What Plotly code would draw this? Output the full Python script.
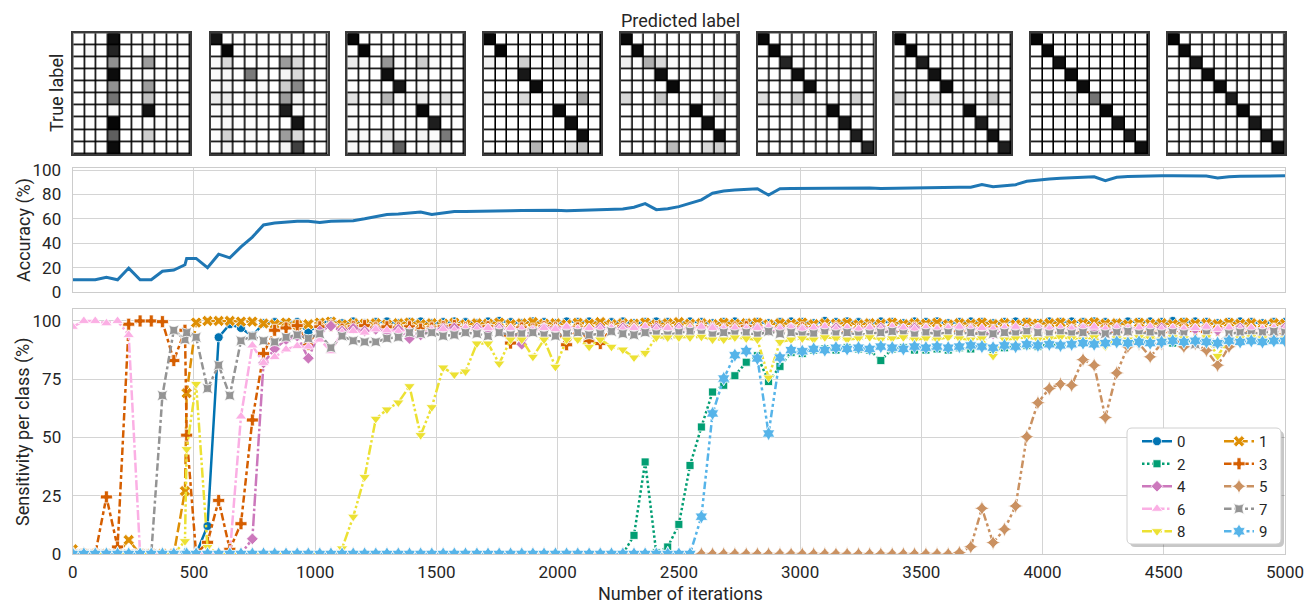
import plotly.graph_objects as go

# page body has an 8px margin: figure is 1305x595 and all positions below are
# given in page pixels, then shifted by that margin
PAGE_OFF = 8
W, H = 1305, 595
FONT = "Roboto, 'DejaVu Sans', sans-serif"
TXT = "#262626"

# ---------------- data ----------------
iterations = [0, 46, 93, 139, 185, 231, 278, 324, 370, 417, 463, 470, 509, 556, 602, 648, 694, 741, 787, 833,
              880, 926, 972, 1019, 1065, 1111, 1157, 1204, 1250, 1296, 1343, 1389, 1435, 1481, 1528, 1574, 1620,
              1667, 1713, 1759, 1806, 1852, 1898, 1944, 1991, 2037, 2083, 2130, 2176, 2222, 2269, 2315, 2361,
              2407, 2454, 2500, 2546, 2593, 2639, 2685, 2731, 2778, 2824, 2870, 2917, 2963, 3009, 3056, 3102,
              3148, 3194, 3241, 3287, 3333, 3380, 3426, 3472, 3519, 3565, 3611, 3657, 3704, 3750, 3796, 3843,
              3889, 3935, 3981, 4028, 4074, 4120, 4167, 4213, 4259, 4306, 4352, 4398, 4444, 4491, 4537, 4583,
              4630, 4676, 4722, 4769, 4815, 4861, 4907, 4954, 5000]

accuracy = [10, 10, 10, 12, 10, 19.6, 10, 10, 17, 18,
            22.3, 27.5, 27.5, 20, 31, 28, 37, 45, 55, 56.5,
            57.5, 58, 58, 57, 58, 58, 58.5, 60, 61.5, 63.5,
            64, 64.5, 65.5, 63.5, 65, 66, 66, 66.3, 66.5, 66.5,
            66.6, 66.8, 67, 66.6, 67, 66.6, 66.8, 67, 67, 67.2,
            68, 69.5, 72.5, 67.5, 68.3, 70, 72.5, 75.5, 81, 82.8,
            83.6, 84.3, 84.6, 79.5, 84.6, 84.8, 84.9, 85, 85, 85.1,
            85.2, 85.3, 85.2, 84.9, 85.1, 85.3, 85.3, 85.5, 85.6, 85.7,
            85.8, 85.8, 88, 86.3, 87, 88, 90.7, 91.8, 92.6, 93.3,
            93.6, 94.3, 94.5, 91.2, 94, 94.6, 95, 95, 95.2, 95.3,
            95.3, 95.2, 95, 93.4, 94.5, 94.8, 95, 95.2, 95.3, 95.3]

sens_0 = [0, 0, 0, 0, 0, 0, 0, 0, 0, 0,
          0, 0, 0, 12, 93, 98.6, 97, 93.5, 99, 99.5,
          99, 99.5, 95, 99, 99.8, 99, 99.8, 99, 99.5, 99.8,
          99, 99.5, 99.8, 99, 99.5, 99.8, 99.5, 99, 99.8, 100,
          99.5, 99, 99.8, 99.5, 99, 99.8, 99.5, 99.8, 99, 99.5,
          99.8, 99, 99.5, 99.8, 99.5, 99, 99.8, 99.5, 99, 99.5,
          99.8, 99, 99.5, 99, 99.5, 99.8, 99.5, 99, 100, 99.5,
          99.8, 99.5, 99, 99.8, 99.5, 99, 99.8, 99.5, 99.8, 99,
          99.5, 99.8, 99.5, 99, 99.5, 99.8, 99.5, 99, 99.8, 99.5,
          99.8, 99.5, 99.8, 99.5, 99, 99.8, 99.5, 99.8, 99.5, 100,
          99.5, 99.8, 99.5, 99, 99.5, 99.8, 99.5, 99, 99.5, 99.5]

sens_1 = [2, 0, 0, 0, 0, 6, 0, 0, 0, 0,
          27, 69, 99.3, 100, 100, 100, 99.7, 99.7, 98.9, 98.6,
          99.3, 98.3, 98.6, 99.3, 99.7, 98.5, 99, 98.8, 99, 98.5,
          99, 99.3, 98.6, 99, 98.8, 99.2, 98.5, 99, 98.8, 99.3,
          98.6, 99, 99.5, 98.8, 99, 98.5, 99.2, 98.8, 99.5, 98.6,
          99, 98.8, 99.3, 98.5, 99, 99.5, 98.8, 99, 98.6, 99.2,
          98.8, 99, 99.3, 98.5, 99, 98.8, 99.3, 98.6, 99, 98.8,
          99.2, 98.5, 99, 98.8, 99.3, 98.6, 99, 98.8, 99.2, 98.5,
          99, 98.8, 99.3, 98.6, 99, 98.5, 99.2, 98.8, 99, 99.3,
          98.6, 99, 99.4, 98.8, 99, 98.5, 99.2, 98.8, 99, 98.6,
          99.3, 98.8, 99, 98.6, 99.2, 98.8, 99, 98.5, 99, 98.8]

sens_2 = [0, 0, 0, 0, 0, 0, 0, 0, 0, 0,
          0, 0, 0, 0, 0, 0, 0, 0, 0, 0,
          0, 0, 0, 0, 0, 0, 0, 0, 0, 0,
          0, 0, 0, 0, 0, 0, 0, 0, 0, 0,
          0, 0, 0, 0, 0, 0, 0, 0, 0, 0,
          0, 8, 39.5, 0.5, 3, 12.7, 38, 54.5, 69.5, 72.4,
          76.5, 82.3, 85.1, 74, 80.5, 86.5, 86, 87.5, 88, 87.5,
          88.5, 88, 87.5, 83, 88, 88.5, 87.5, 87.5, 88, 87.5,
          88.5, 88, 89, 87.5, 88.5, 89, 89.5, 89, 90, 89.5,
          90, 90.5, 91, 90.5, 91, 90.5, 91, 91.5, 91, 90.5,
          91, 91.5, 91, 90.5, 91.5, 91, 91.5, 91, 91.5, 91.5]

sens_3 = [0, 0, 0, 24.5, 3, 98.6, 100, 100, 99.7, 83,
          96, 51, 0, 5, 23, 2, 13, 57.5, 86, 96,
          97, 98, 90, 97.5, 98, 96.5, 97.5, 98, 97, 97.5,
          97, 97.5, 96.5, 97, 97.5, 98, 97, 96.5, 97.5, 97,
          90.5, 97, 96.5, 97.5, 97, 89.8, 97, 91.5, 90.3, 97,
          97.5, 97, 96.5, 97.5, 97, 96.5, 97, 97.5, 97, 96.5,
          97, 97.5, 96.5, 97, 96, 96.5, 97, 96, 96.5, 97,
          96, 96.5, 97, 96, 96.5, 96, 97, 96.5, 96, 96.5,
          96, 96.5, 95.5, 96, 96.5, 95.5, 96, 96.5, 96, 95.5,
          96, 95.5, 96, 96.5, 95.5, 96, 96.5, 96, 95.5, 96,
          96.5, 96, 95.5, 96, 96.5, 96, 95.5, 96, 96.5, 96]

sens_4 = [0, 0, 0, 0, 0, 0, 0, 0, 0, 0,
          0, 0, 0, 0, 0, 0, 0, 6.5, 82, 88,
          92, 93.5, 84, 95.7, 97.8, 95.7, 96.8, 95.7, 96.4, 95,
          96.4, 92.5, 94, 96, 96.8, 97, 96.5, 97, 96.5, 97,
          96.5, 90, 96, 97, 96.5, 97, 96, 96.5, 97, 96.5,
          97, 96.5, 96, 97, 96.5, 97, 96, 96.5, 97, 96.5,
          96, 96.5, 97, 96, 96.5, 97, 96.5, 96, 96.5, 97,
          96.5, 96, 96.5, 97, 96, 96.5, 97, 96.5, 96, 96.5,
          97, 96.5, 96, 94.5, 96.5, 96, 96.5, 97, 96.5, 96,
          96.5, 97, 96, 94.5, 97, 96.5, 96, 96.5, 97, 96.5,
          96, 96.5, 97, 96, 96.5, 97, 96.5, 96, 96.5, 97]

sens_5 = [0, 0, 0, 0, 0, 0, 0, 0, 0, 0,
          0, 0, 0, 0, 0, 0, 0, 0, 0, 0,
          0, 0, 0, 0, 0, 0, 0, 0, 0, 0,
          0, 0, 0, 0, 0, 0, 0, 0, 0, 0,
          0, 0, 0, 0, 0, 0, 0, 0, 0, 0,
          0, 0, 0, 0, 0, 0, 0, 0, 0, 0,
          0, 0, 0, 0, 0, 0, 0, 0, 0, 0,
          0, 0, 0, 0, 0, 0, 0, 0, 0, 0,
          0.6, 3.1, 19.6, 4.9, 10.6, 20.6, 50.3, 64.9, 71, 72.9,
          72.4, 83.4, 81, 58.6, 77.7, 88.9, 90.3, 84.6, 90.3, 93.2,
          88.9, 90.3, 87.4, 81, 88.9, 91.5, 92.5, 93.5, 94, 94.5]

sens_6 = [97.5, 100, 100, 99, 100, 94, 0, 0, 0, 0,
          0, 0, 0, 0, 0, 0, 59, 89.5, 82, 84.5,
          87.8, 89.2, 89, 92, 87, 95, 95.7, 95, 96.4, 96,
          95.5, 96, 94.5, 96, 96.5, 96, 97, 96.5, 97, 96.5,
          97, 96.5, 96, 97, 96.5, 97.5, 96.5, 97, 96.5, 97,
          96.5, 97, 97.5, 96.5, 97, 96.5, 97, 97.5, 97, 96.5,
          97, 96.5, 97, 97.5, 96.5, 97, 96.5, 97, 97.5, 96.5,
          97, 96.5, 97, 96.5, 97.5, 97, 96.5, 97, 96.5, 97,
          97.5, 96.5, 97, 96.5, 97, 97.5, 96.5, 97, 96.5, 97,
          96.5, 97, 97.5, 96.5, 97, 96.5, 97, 97.5, 96.5, 97,
          96.5, 97, 97.5, 96.5, 97, 96.5, 97, 96.5, 97, 96.5]

sens_7 = [0, 0, 0, 0, 0, 0, 0, 0, 68, 96,
          92, 95, 93, 71, 81, 68, 91.5, 93.5, 91.5, 91,
          93, 94, 92.5, 94.5, 88.5, 93.5, 91.5, 91, 91, 92.5,
          93, 95, 94.5, 95, 93.5, 94, 95, 94.5, 93.5, 95,
          94, 94.5, 95, 94, 93.5, 94.5, 95, 94, 94.5, 95.5,
          94.5, 94, 95, 94.5, 94, 95, 95.5, 94.5, 94, 95,
          94.5, 95, 94, 95.5, 94.5, 95, 94, 94.5, 95, 94.5,
          95, 94, 94.5, 95, 95.5, 94.5, 94, 95, 94.5, 95,
          94.5, 95, 94, 94.5, 95, 94.5, 95.5, 95, 94.5, 95,
          94.5, 95, 94, 94.5, 95, 95.5, 94.5, 95, 94.5, 95,
          94.5, 90, 94.5, 90.3, 94.5, 95, 94.5, 95, 95.5, 95]

sens_8 = [0, 0, 0, 0, 0, 0, 0, 0, 0, 0,
          5.5, 45, 73, 3, 0, 0, 0, 0, 0, 0,
          0, 0, 0, 0, 0, 2.4, 16, 33, 58, 62,
          65, 72, 51, 63, 80, 77, 78.3, 90.3, 90.3, 81.7,
          92, 92, 84.6, 92, 80.3, 92, 92, 88.9, 92, 88.9,
          87.7, 84.3, 86.3, 92.9, 92.9, 92.9, 92.9, 93.2, 92, 92,
          92.9, 92.5, 92, 75.7, 91, 92, 92.5, 92, 93, 92.5,
          92, 92.5, 93, 92, 92.5, 93, 92, 92.5, 92, 93,
          92.5, 92, 92.5, 85, 92, 92.5, 93, 92, 92.5, 93,
          92.5, 92, 93, 89, 92.5, 92, 93, 92.5, 92, 93,
          92.5, 92, 93, 85, 92, 92.5, 93, 92.5, 92, 92.5]

sens_9 = [0, 0, 0, 0, 0, 0, 0, 0, 0, 0,
          0, 0, 0, 0, 0, 0, 0, 0, 0, 0,
          0, 0, 0, 0, 0, 0, 0, 0, 0, 0,
          0, 0, 0, 0, 0, 0, 0, 0, 0, 0,
          0, 0, 0, 0, 0, 0, 0, 0, 0, 0,
          0, 0, 0, 0, 0, 0, 0, 16, 60.3, 75.3,
          85.3, 87.1, 83.9, 51.7, 84.3, 87.5, 87, 88, 87.5, 88.5,
          88, 88.5, 88, 89, 88.5, 88, 89, 88.5, 89, 88.5,
          89, 89.5, 89, 88.5, 89.5, 89, 90, 89.5, 90, 89.5,
          90, 90.5, 90, 90.5, 91, 90.5, 91, 90.5, 91, 91.5,
          91, 91.5, 91, 90.5, 91.5, 91, 91.5, 91, 91.5, 91.5]

class_names = ["0", "1", "2", "3", "4", "5", "6", "7", "8", "9"]
sensitivities = [sens_0, sens_1, sens_2, sens_3, sens_4, sens_5, sens_6, sens_7, sens_8, sens_9]

cm1 = [[0, 0, 0, .95, 0, 0, .03, 0, 0, 0],
       [0, .06, 0, .88, 0, 0, .06, 0, 0, 0],
       [0, 0, 0, .52, 0, 0, .48, 0, 0, 0],
       [0, 0, 0, .96, 0, 0, .03, 0, 0, 0],
       [0, 0, 0, .52, 0, 0, .48, 0, 0, 0],
       [0, 0, 0, .62, 0, 0, .36, 0, 0, 0],
       [0, 0, 0, .06, 0, 0, .94, 0, 0, 0],
       [0, 0, 0, .98, 0, 0, .02, 0, 0, 0],
       [0, 0, 0, .70, 0, 0, .30, 0, 0, 0],
       [0, 0, 0, .96, 0, 0, .03, 0, 0, 0]]
cm2 = [[.93, 0, 0, 0, 0, 0, .05, 0, 0, 0],
       [0, .98, 0, 0, 0, 0, 0, 0, 0, 0],
       [.06, .25, 0, 0, .02, 0, .48, .25, 0, 0],
       [.03, .06, 0, .60, 0, 0, .08, .25, 0, 0],
       [.03, .08, 0, 0, .05, 0, .30, .55, 0, 0],
       [.15, .15, 0, .10, 0, 0, .48, .12, 0, 0],
       [.03, .06, 0, 0, 0, 0, .90, .03, 0, 0],
       [.02, .06, 0, 0, 0, 0, 0, .93, 0, 0],
       [.03, .28, 0, .05, 0, 0, .48, .25, 0, 0],
       [.03, .08, 0, 0, 0, 0, .10, .80, 0, 0]]
cm3 = [[.97, 0, 0, 0, 0, 0, .02, 0, 0, 0],
       [0, .98, 0, 0, 0, 0, 0, 0, 0, 0],
       [.15, .05, 0, .50, .04, 0, .30, .05, 0, 0],
       [0, 0, 0, .95, 0, 0, .02, 0, .02, 0],
       [0, 0, 0, 0, .92, 0, .05, 0, 0, 0],
       [.20, .05, 0, .40, .05, 0, .15, 0, .22, 0],
       [.03, 0, 0, 0, 0, 0, .97, 0, 0, 0],
       [.03, .03, 0, .02, 0, 0, 0, .90, 0, 0],
       [.05, .05, 0, .20, .05, 0, .08, .03, .60, 0],
       [.05, .05, 0, .07, .70, 0, 0, .10, .05, 0]]
cm4 = [[.97, 0, 0, 0, 0, 0, 0, 0, 0, 0],
       [0, .98, 0, 0, 0, 0, 0, 0, 0, 0],
       [.12, .04, 0, .30, .04, 0, .18, .04, .15, 0],
       [0, 0, 0, .92, 0, 0, 0, 0, .03, 0],
       [0, 0, 0, 0, .96, 0, 0, 0, .03, 0],
       [.12, 0, 0, .25, 0, 0, .08, .02, .45, 0],
       [0, 0, 0, 0, 0, 0, .96, 0, 0, 0],
       [0, 0, 0, 0, 0, 0, 0, .95, 0, 0],
       [0, 0, 0, 0, 0, 0, 0, 0, .95, 0],
       [.03, 0, 0, 0, .40, 0, 0, .20, .35, 0]]
cm5 = [[.97, 0, 0, 0, 0, 0, 0, 0, 0, 0],
       [0, .97, 0, 0, 0, 0, 0, 0, 0, 0],
       [.12, .03, .42, .25, .04, 0, .06, .06, .10, 0],
       [0, 0, 0, .95, 0, 0, 0, 0, .02, 0],
       [0, 0, 0, 0, .97, 0, 0, 0, 0, 0],
       [.25, 0, 0, .33, 0, 0, .06, 0, .30, 0],
       [0, 0, 0, 0, 0, 0, .97, 0, 0, 0],
       [0, 0, 0, 0, 0, 0, 0, .95, 0, 0],
       [0, 0, 0, 0, 0, 0, 0, 0, .95, 0],
       [.02, 0, 0, 0, .38, 0, 0, .25, .30, 0]]
cm6 = [[.97, 0, 0, 0, 0, 0, 0, 0, 0, 0],
       [0, .97, 0, 0, 0, 0, 0, 0, 0, 0],
       [0, 0, .88, .03, 0, 0, 0, 0, .02, 0],
       [0, 0, .02, .95, 0, 0, 0, 0, 0, 0],
       [0, 0, 0, 0, .95, 0, 0, 0, 0, .02],
       [.22, 0, .06, .32, 0, 0, .06, 0, .28, .03],
       [0, 0, 0, 0, 0, 0, .96, 0, 0, 0],
       [0, 0, 0, 0, 0, 0, 0, .92, 0, .02],
       [0, 0, 0, 0, 0, 0, 0, 0, .90, 0],
       [0, 0, 0, 0, 0, 0, 0, 0, .04, .88]]
cm7 = [[.98, 0, 0, 0, 0, 0, 0, 0, 0, 0],
       [0, .98, 0, 0, 0, 0, 0, 0, 0, 0],
       [0, 0, .90, 0, 0, 0, 0, 0, .03, 0],
       [0, 0, .03, .94, 0, 0, 0, 0, 0, 0],
       [0, 0, 0, 0, .96, 0, 0, 0, 0, .02],
       [.28, 0, 0, .20, 0, .03, .08, 0, .32, .04],
       [0, 0, 0, 0, 0, 0, .95, 0, 0, 0],
       [0, 0, .03, 0, 0, 0, 0, .90, 0, .04],
       [0, 0, 0, 0, 0, 0, 0, 0, .94, 0],
       [0, 0, 0, 0, 0, 0, 0, 0, 0, .90]]
cm8 = [[.98, 0, 0, 0, 0, 0, 0, 0, 0, 0],
       [0, .97, 0, 0, 0, 0, 0, 0, 0, 0],
       [0, 0, .94, 0, 0, 0, 0, 0, 0, 0],
       [0, 0, 0, .96, 0, 0, 0, 0, 0, 0],
       [0, 0, 0, 0, .96, 0, 0, 0, 0, .02],
       [.07, 0, 0, .20, 0, .62, .08, 0, .02, 0],
       [0, 0, 0, 0, 0, 0, .97, 0, 0, 0],
       [0, 0, .06, 0, 0, 0, 0, .93, 0, .02],
       [0, 0, 0, .02, 0, 0, 0, 0, .90, 0],
       [0, 0, 0, 0, 0, 0, 0, 0, 0, .95]]
cm9 = [[.98, 0, 0, 0, 0, 0, 0, 0, 0, 0],
       [0, .96, 0, 0, 0, 0, 0, 0, 0, 0],
       [0, 0, .92, 0, 0, 0, 0, 0, 0, 0],
       [0, 0, .02, .96, 0, 0, 0, 0, 0, 0],
       [0, 0, 0, 0, .96, 0, 0, 0, 0, .02],
       [0, 0, 0, 0, 0, .90, .02, 0, 0, 0],
       [0, 0, 0, 0, 0, 0, .97, 0, 0, 0],
       [0, 0, .02, 0, 0, 0, 0, .92, 0, .02],
       [0, 0, 0, 0, 0, 0, 0, 0, .92, 0],
       [0, 0, 0, 0, 0, 0, 0, 0, 0, .95]]
matrices = [cm1, cm2, cm3, cm4, cm5, cm6, cm7, cm8, cm9]

# ---------------- styles ----------------
colors = ["#0173B2", "#DE8F05", "#029E73", "#D55E00", "#CC78BC",
          "#CA9161", "#FBAFE4", "#949494", "#ECE133", "#56B4E9"]
symbols = ["circle", "x", "square", "cross", "diamond",
           "star-diamond", "triangle-up", "star-square", "triangle-down", "hexagram"]
dashes = ["solid", "10px,3.75px", "2.5px,2.5px", "7.5px,3px,3.75px,3px", "12.5px,2.5px,2.5px,2.5px",
          "7.5px,3px,3px,3px,3px,3px", "10px,2.5px,10px,2.5px,2.5px,2.5px",
          "7.5px,3px,7.5px,3px,3px,3px", "10px,2.5px,2.5px,2.5px,2.5px,2.5px",
          "7.5px,3px,3px,3px,3px,3px,3px,3px"]
msizes = [9, 10, 8, 10, 9, 11, 10, 10, 10, 11]
greys = [[0.0, "#ffffff"], [0.125, "#f0f0f0"], [0.25, "#d9d9d9"], [0.375, "#bdbdbd"],
         [0.5, "#969696"], [0.625, "#737373"], [0.75, "#525252"], [0.875, "#252525"], [1.0, "#000000"]]


def fx(p):
    return (p - PAGE_OFF) / W


def fy(p):
    return 1 - (p - PAGE_OFF) / H


fig = go.Figure()
layout = {}
shapes = []

# ---------------- confusion matrices ----------------
mat_left = [73.3, 210.5, 347.3, 484.0, 620.8, 757.6, 894.3, 1031.0, 1167.8]
mat_w = 117.0
mat_top, mat_bot = 33.3, 154.0
labels = list(range(10))
for i, cm in enumerate(matrices):
    n = i + 1
    xa = "x" if n == 1 else "x%d" % n
    ya = "y" if n == 1 else "y%d" % n
    fig.add_trace(go.Heatmap(z=cm, x=labels, y=labels, colorscale=greys, zmin=0, zmax=1,
                             showscale=False, xgap=1.6, ygap=1.6, xaxis=xa, yaxis=ya,
                             hoverinfo="skip"))
    ax_common = dict(showticklabels=False, showgrid=False, zeroline=False, ticks="",
                     showline=True, mirror=True, linecolor="#3a3a3a", linewidth=1.5,
                     fixedrange=True)
    layout["xaxis" if n == 1 else "xaxis%d" % n] = dict(
        domain=[fx(mat_left[i]), fx(mat_left[i] + mat_w)], range=[-0.5, 9.5],
        anchor=ya, **ax_common)
    layout["yaxis" if n == 1 else "yaxis%d" % n] = dict(
        domain=[fy(mat_bot), fy(mat_top)], range=[9.5, -0.5], anchor=xa, **ax_common)
    shapes.append(dict(type="rect", xref=xa + " domain", yref=ya + " domain",
                       x0=0, x1=1, y0=0, y1=1, fillcolor="#000000", line=dict(width=0),
                       layer="below"))

# ---------------- accuracy ----------------
plot_l, plot_r = 72.7, 1285.0
grid_c = "#d4d4d4"
edge_c = "#cccccc"
tickfont = dict(family=FONT, size=17, color=TXT)

fig.add_trace(go.Scatter(x=iterations, y=accuracy, mode="lines",
                         line=dict(color="#1f77b4", width=3), xaxis="x10", yaxis="y10",
                         showlegend=False, hoverinfo="skip"))
layout["xaxis10"] = dict(domain=[fx(plot_l), fx(plot_r)], range=[0, 5000], dtick=500, tick0=0,
                         showticklabels=False, showgrid=True, gridcolor=grid_c, gridwidth=1,
                         zeroline=False, showline=True, mirror=True, linecolor=edge_c,
                         linewidth=1.2, anchor="y10", ticks="")
layout["yaxis10"] = dict(domain=[fy(292), fy(168.3)], range=[0, 101.4],
                         tickvals=[0, 20, 40, 60, 80, 100], showgrid=True, gridcolor=grid_c,
                         zeroline=False, showline=True, mirror=True, linecolor=edge_c,
                         linewidth=1.2, anchor="x10", ticks="outside", ticklen=7,
                         tickcolor="rgba(0,0,0,0)", tickfont=tickfont)

# ---------------- sensitivity ----------------
for k in range(10):
    fig.add_trace(go.Scatter(
        x=iterations, y=sensitivities[k], mode="lines+markers", name=class_names[k],
        line=dict(color=colors[k], width=2.5, dash=dashes[k]),
        marker=dict(symbol=symbols[k], size=msizes[k], color=colors[k],
                    line=dict(color="white", width=0.8)),
        xaxis="x11", yaxis="y11", legend="legend" if k % 2 == 0 else "legend2",
        hoverinfo="skip"))

layout["xaxis11"] = dict(domain=[fx(plot_l), fx(plot_r)], range=[0, 5000], dtick=500, tick0=0,
                         showgrid=True, gridcolor=grid_c, zeroline=False, showline=True,
                         mirror=True, linecolor=edge_c, linewidth=1.2, anchor="y11",
                         ticks="outside", ticklen=2, tickcolor="rgba(0,0,0,0)",
                         tickfont=tickfont)
layout["yaxis11"] = dict(domain=[fy(554), fy(309.3)], range=[0, 105],
                         tickvals=[0, 25, 50, 75, 100], showgrid=True, gridcolor=grid_c,
                         zeroline=False, showline=True, mirror=True, linecolor=edge_c,
                         linewidth=1.2, anchor="x11", ticks="outside", ticklen=7,
                         tickcolor="rgba(0,0,0,0)", tickfont=tickfont)


# ---------------- legend frame ----------------
def rpath(x0, y0, x1, y1, r):
    return ("M{a},{b} L{c},{b} Q{d},{b} {d},{e} L{d},{f} Q{d},{g} {c},{g} "
            "L{a},{g} Q{h},{g} {h},{f} L{h},{e} Q{h},{b} {a},{b} Z").format(
        a=fx(x0 + r), b=fy(y0), c=fx(x1 - r), d=fx(x1), e=fy(y0 + r), f=fy(y1 - r),
        g=fy(y1), h=fx(x0))


shapes.append(dict(type="path", xref="paper", yref="paper", path=rpath(1130, 431, 1284, 547, 5),
                   fillcolor="rgba(0,0,0,0.22)", line=dict(width=0), layer="above"))
shapes.append(dict(type="path", xref="paper", yref="paper", path=rpath(1127, 428, 1281, 544, 5),
                   fillcolor="#ffffff", line=dict(color="#d0d0d0", width=1), layer="above"))

legfont = dict(family=FONT, size=15, color=TXT)
layout["legend"] = dict(x=fx(1137), y=fy(425), xanchor="left", yanchor="top",
                        bgcolor="rgba(0,0,0,0)", borderwidth=0, font=legfont,
                        traceorder="normal", tracegroupgap=0)
layout["legend2"] = dict(x=fx(1219), y=fy(425), xanchor="left", yanchor="top",
                         bgcolor="rgba(0,0,0,0)", borderwidth=0, font=legfont,
                         traceorder="normal", tracegroupgap=0)

# ---------------- text ----------------
labfont = dict(family=FONT, size=18, color=TXT)
annotations = [
    dict(text="Predicted label", x=fx(680), y=fy(20)),
    dict(text="True label", x=fx(57), y=fy(93), textangle=-90),
    dict(text="Accuracy (%)", x=fx(24), y=fy(230), textangle=-90),
    dict(text="Sensitivity per class (%)", x=fx(23), y=fy(432), textangle=-90),
    dict(text="Number of iterations", x=fx(680), y=fy(593)),
]
for a in annotations:
    a.update(xref="paper", yref="paper", showarrow=False, xanchor="center", yanchor="middle",
             font=labfont)

fig.update_layout(width=W, height=H, autosize=False,
                  margin=dict(l=0, r=0, t=0, b=0, autoexpand=False),
                  paper_bgcolor="white", plot_bgcolor="white",
                  font=dict(family=FONT, color=TXT),
                  shapes=shapes, annotations=annotations, **layout)

fig.write_html("out.html")
